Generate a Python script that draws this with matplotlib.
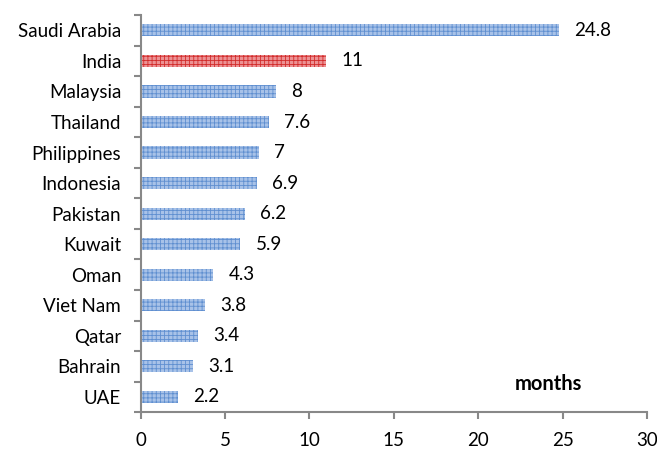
import matplotlib
matplotlib.use("Agg")
import matplotlib.pyplot as plt

countries = ["Saudi Arabia", "India", "Malaysia", "Thailand", "Philippines", "Indonesia",
             "Pakistan", "Kuwait", "Oman", "Viet Nam", "Qatar", "Bahrain", "UAE"]
values = [24.8, 11, 8, 7.6, 7, 6.9, 6.2, 5.9, 4.3, 3.8, 3.4, 3.1, 2.2]
labels = ["24.8", "11", "8", "7.6", "7", "6.9", "6.2", "5.9", "4.3", "3.8", "3.4", "3.1", "2.2"]
xticks = [0, 5, 10, 15, 20, 25, 30]

plt.rcParams['font.family'] = ['Lato', 'DejaVu Sans']
plt.rcParams['hatch.linewidth'] = 0.6

fig = plt.figure(figsize=(6.57, 4.58), dpi=100)
ax = fig.add_axes([0.214, 0.100, 0.771, 0.867])

n = len(countries)
ypos = list(range(n))[::-1]
for i, (c, v, lab) in enumerate(zip(countries, values, labels)):
    if c == "India":
        fc, hc = '#ec9294', '#d22b2b'
    else:
        fc, hc = '#a8c2e8', '#5f8fd0'
    ax.barh(ypos[i], v, height=0.4, color=fc, edgecolor=hc, hatch='++++', linewidth=0)
    ax.text(v + 0.9, ypos[i], lab, va='center', ha='left', fontsize=13.5)

ax.set_xlim(0, 30)
ax.set_ylim(-0.5, n - 0.5)
ax.set_xticks(xticks)
ax.set_xticklabels([str(t) for t in xticks], fontsize=13.5)
ax.set_yticks(ypos)
ax.set_yticklabels(countries, fontsize=13.5)
ax.set_yticks([y - 0.5 for y in range(n + 1)], minor=True)
ax.tick_params(axis='y', which='major', length=0, pad=14)
ax.tick_params(axis='y', which='minor', length=5, color='#888888', width=1.5)
ax.tick_params(axis='x', length=5, color='#888888', width=1.5, pad=9)

for s in ['top', 'right']:
    ax.spines[s].set_visible(False)
for s in ['left', 'bottom']:
    ax.spines[s].set_color('#888888')
    ax.spines[s].set_linewidth(1.5)

ax.text(0.738, 0.072, "months", transform=ax.transAxes, fontsize=14.5, fontweight='bold', ha='left', va='center')

fig.savefig("out.png", dpi=100)
